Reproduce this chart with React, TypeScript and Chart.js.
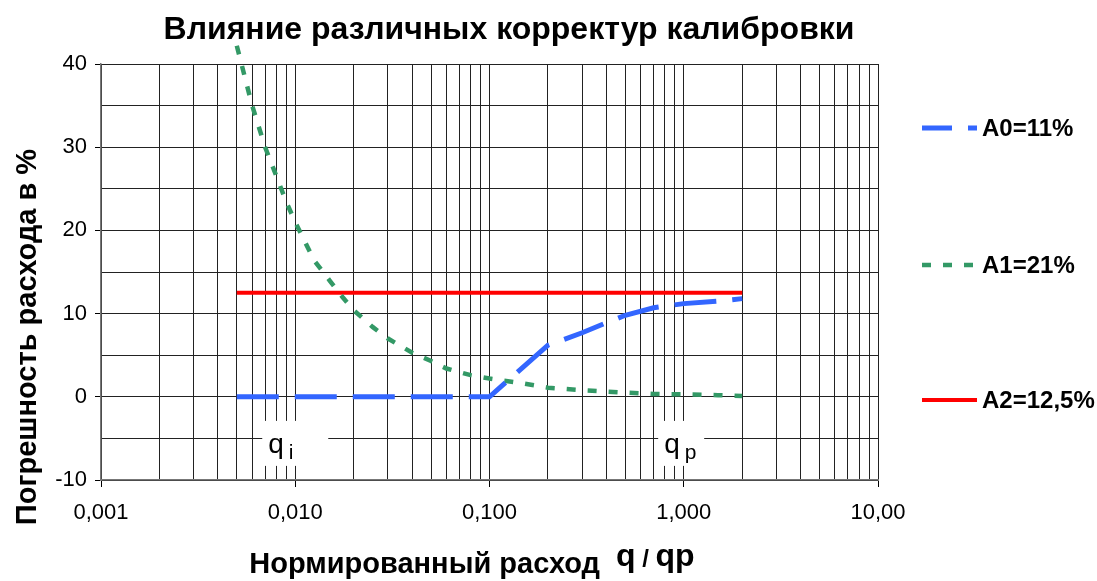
import React, { useEffect, useRef } from 'react';
import { Chart, registerables } from 'chart.js';

Chart.register(...registerables);

const FONT = "'Liberation Sans', Arial, Helvetica, sans-serif";

// ---- texts ----
const titleText = 'Влияние различных корректур калибровки';
const yTitleText = 'Погрешность расхода в %';
const xTitleText = 'Нормированный расход';
const xUnitParts = ['q', ' / ', 'qp'];

// ---- axes ----
const xMajorTicks = [0.001, 0.01, 0.1, 1, 10];
const xMajorLabels = ['0,001', '0,010', '0,100', '1,000', '10,00'];
const xMinorSteps = [2, 3, 4, 5, 6, 7, 8, 9];
const yMin = -10;
const yMax = 40;
const yGridStep = 5;
const yLabelStep = 10;

// ---- series ----
const seriesNames = ['A0=11%', 'A1=21%', 'A2=12,5%'];

const a0X = [0.005, 0.01, 0.02, 0.05, 0.1, 0.2, 0.3, 0.4, 0.5, 0.7, 1, 1.5, 2];
const a0Y = [0, 0, 0, 0, 0, 6.2, 7.7, 8.9, 9.8, 10.7, 11.2, 11.5, 11.8];

const a1X = [0.005, 0.006, 0.007, 0.008, 0.009, 0.01, 0.0125, 0.015, 0.0175, 0.02, 0.025, 0.03, 0.04, 0.05, 0.06, 0.08, 0.1, 0.15, 0.2, 0.3, 0.5, 0.7, 1, 1.5, 2];
const a1Y = [42.2, 35, 30, 26.5, 23.4, 21, 16.4, 14, 12, 10.4, 8.4, 7, 5.3, 4.3, 3.4, 2.6, 2.2, 1.6, 1.1, 0.8, 0.5, 0.35, 0.3, 0.2, 0.1];

const a2X = [0.005, 2];
const a2Y = [12.5, 12.5];

// ---- annotations (q_i, q_p) ----
const annoX = [0.01, 0.97];
const annoY = [-5.6, -5.6];
const annoMain = ['q', 'q'];
const annoSub = ['i', 'p'];
const annoBoxW = [66, 46];

const toPoints = (xs: number[], ys: number[]) => xs.map((x, i) => ({ x, y: ys[i] }));

const overlayPlugin = {
  id: 'overlay',
  beforeDatasetsDraw(chart: any) {
    const { ctx, scales } = chart;
    ctx.save();
    for (let i = 0; i < annoX.length; i++) {
      const cx = scales.x.getPixelForValue(annoX[i]);
      const cy = scales.y.getPixelForValue(annoY[i]);
      const w = annoBoxW[i];
      const h = 45;
      const left = cx - w / 2;
      const top = cy - h / 2;
      ctx.fillStyle = '#ffffff';
      ctx.fillRect(left, top, w, h);
      ctx.fillStyle = '#000';
      ctx.textBaseline = 'alphabetic';
      ctx.textAlign = 'left';
      ctx.font = `28px ${FONT}`;
      const tx = left + 6;
      const by = top + 32;
      ctx.fillText(annoMain[i], tx, by);
      const mw = ctx.measureText(annoMain[i]).width;
      ctx.font = `21px ${FONT}`;
      ctx.fillText(annoSub[i], tx + mw + 5, by + 6);
    }
    ctx.restore();
  },
  afterDraw(chart: any) {
    const { ctx, chartArea } = chart;
    ctx.save();
    ctx.fillStyle = '#000';
    // title
    ctx.font = `bold 32px ${FONT}`;
    ctx.textAlign = 'center';
    ctx.textBaseline = 'alphabetic';
    ctx.fillText(titleText, 509, 39);

    // y title
    ctx.save();
    ctx.translate(36, 337);
    ctx.rotate(-Math.PI / 2);
    ctx.font = `bold 29px ${FONT}`;
    ctx.textAlign = 'center';
    ctx.fillText(yTitleText, 0, 0);
    ctx.restore();

    // x title with unit
    ctx.textAlign = 'left';
    ctx.font = `bold 29px ${FONT}`;
    const w1 = ctx.measureText(xTitleText).width + 16;
    ctx.font = `bold 32px ${FONT}`;
    const wq = ctx.measureText(xUnitParts[0]).width;
    const wqp = ctx.measureText(xUnitParts[2]).width;
    ctx.font = `bold 24px ${FONT}`;
    const ws = ctx.measureText(xUnitParts[1]).width;
    const total = w1 + wq + ws + wqp;
    let x0 = 472 - total / 2;
    ctx.font = `bold 29px ${FONT}`;
    ctx.fillText(xTitleText, x0, 573);
    x0 += w1;
    ctx.font = `bold 32px ${FONT}`;
    ctx.fillText(xUnitParts[0], x0, 566);
    x0 += wq;
    ctx.font = `bold 24px ${FONT}`;
    ctx.fillText(xUnitParts[1], x0, 567);
    x0 += ws;
    ctx.font = `bold 32px ${FONT}`;
    ctx.fillText(xUnitParts[2], x0, 566);

    // legend
    const lx = chartArea.right + 44;
    const lineLen = 55;
    const ys = [128, 265, 400];
    chart.data.datasets.forEach((ds: any, i: number) => {
      const y = ys[i];
      ctx.save();
      ctx.strokeStyle = ds.borderColor;
      ctx.lineWidth = ds.borderWidth;
      ctx.setLineDash(ds.borderDash || []);
      ctx.lineDashOffset = ds.legendDashOffset || 0;
      ctx.lineCap = 'butt';
      ctx.beginPath();
      ctx.moveTo(lx, y);
      ctx.lineTo(lx + lineLen, y);
      ctx.stroke();
      ctx.restore();
      ctx.font = `bold 24px ${FONT}`;
      ctx.textBaseline = 'middle';
      ctx.textAlign = 'left';
      ctx.fillText(ds.label, lx + lineLen + 5, y + 1);
    });
    ctx.restore();
  },
};

export default function App() {
  const canvasRef = useRef<HTMLCanvasElement | null>(null);

  useEffect(() => {
    if (!canvasRef.current) return;
    const xGrid: number[] = [];
    xMajorTicks.forEach((m, i) => {
      xGrid.push(m);
      if (i < xMajorTicks.length - 1) xMinorSteps.forEach((s) => xGrid.push(+(m * s).toPrecision(6)));
    });
    const isMajor = (v: number) => xMajorTicks.some((m) => Math.abs(m - v) / m < 1e-6);

    const chart = new Chart(canvasRef.current, {
      type: 'scatter',
      data: {
        datasets: [
          {
            label: seriesNames[0],
            data: toPoints(a0X, a0Y),
            showLine: true,
            borderColor: '#3366FF',
            backgroundColor: '#3366FF',
            borderWidth: 5,
            borderDash: [42, 16],
            legendDashOffset: 12,
            pointRadius: 0,
            tension: 0,
          } as any,
          {
            label: seriesNames[1],
            data: toPoints(a1X, a1Y),
            showLine: true,
            borderColor: '#339966',
            backgroundColor: '#339966',
            borderWidth: 4.5,
            borderDash: [9, 12],
            pointRadius: 0,
            tension: 0,
            clip: false,
          } as any,
          {
            label: seriesNames[2],
            data: toPoints(a2X, a2Y),
            showLine: true,
            borderColor: '#FF0000',
            backgroundColor: '#FF0000',
            borderWidth: 4,
            pointRadius: 0,
            tension: 0,
          } as any,
        ],
      },
      options: {
        responsive: false,
        animation: false,
        devicePixelRatio: 1,
        layout: { padding: { left: 0, top: 64, right: 219, bottom: 0 } },
        plugins: {
          legend: { display: false },
          title: { display: false },
          tooltip: { enabled: false },
        },
        scales: {
          x: {
            type: 'logarithmic',
            min: 0.001,
            max: 10,
            afterBuildTicks: (scale: any) => {
              scale.ticks = xGrid.map((v) => ({ value: v, major: isMajor(v) }));
            },
            afterFit: (scale: any) => {
              scale.height = 101;
            },
            ticks: {
              autoSkip: false,
              maxRotation: 0,
              minRotation: 0,
              padding: 13,
              color: '#000',
              font: { family: FONT, size: 22 },
              callback: (value: any) => {
                const idx = xMajorTicks.findIndex((m) => Math.abs(m - Number(value)) / m < 1e-6);
                return idx >= 0 ? xMajorLabels[idx] : '';
              },
            },
            grid: {
              color: '#222',
              lineWidth: 1,
              tickLength: 7,
              tickColor: (c: any) => (c.tick && isMajor(c.tick.value) ? '#000' : 'rgba(0,0,0,0)'),
            },
            border: { display: true, color: '#777', width: 1.5 },
          },
          y: {
            type: 'linear',
            min: yMin,
            max: yMax,
            afterFit: (scale: any) => {
              scale.width = 101;
            },
            ticks: {
              stepSize: yGridStep,
              padding: 8,
              color: '#000',
              font: { family: FONT, size: 22 },
              callback: (value: any) => (Number(value) % yLabelStep === 0 ? String(value) : ''),
            },
            grid: {
              color: '#222',
              lineWidth: 1,
              tickLength: 6,
              tickColor: (c: any) => (c.tick && c.tick.value % yLabelStep === 0 ? '#000' : 'rgba(0,0,0,0)'),
            },
            border: { display: true, color: '#777', width: 1.5 },
          },
        },
      },
      plugins: [overlayPlugin],
    });
    return () => chart.destroy();
  }, []);

  return (
    <div style={{ position: 'fixed', left: 0, top: 0, width: 1097, height: 581, background: '#fff' }}>
      <canvas ref={canvasRef} width={1097} height={581} style={{ display: 'block' }} />
    </div>
  );
}
